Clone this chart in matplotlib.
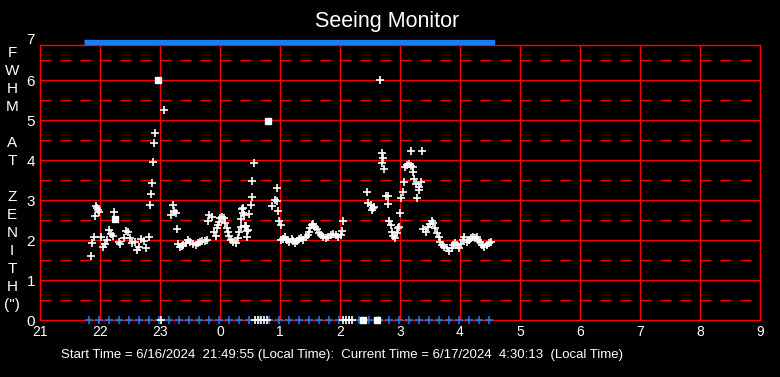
import matplotlib
matplotlib.use('Agg')
import matplotlib.pyplot as plt

plt.rcParams['font.family'] = ['Liberation Sans', 'DejaVu Sans']
plt.rcParams['lines.scale_dashes'] = False

# seeing samples: hour of night (24+ = next day) and FWHM in arcsec
t_seeing = [21.855, 21.867, 21.895, 21.922, 21.933, 21.955, 21.967, 21.988, 22.022, 22.045,
            22.078, 22.117, 22.145, 22.188, 22.212, 22.228, 22.312, 22.338, 22.395, 22.438,
            22.467, 22.495, 22.533, 22.578, 22.617, 22.645, 22.688, 22.728, 22.767, 22.812,
            22.828, 22.85, 22.872, 22.888, 22.905, 22.922, 23.072,
            23.183, 23.222, 23.238, 23.267, 23.278, 23.305, 23.333, 23.362, 23.388, 23.428,
            23.472, 23.5, 23.555, 23.595, 23.638, 23.667, 23.705, 23.75, 23.778, 23.805,
            23.822, 23.862, 23.905, 23.928, 23.945, 23.962, 23.983, 24.0, 24.028, 24.072,
            24.083, 24.112, 24.128, 24.15, 24.183, 24.222, 24.262, 24.295, 24.317, 24.35,
            24.35, 24.362, 24.378, 24.388, 24.405, 24.417, 24.428, 24.445, 24.455, 24.472,
            24.488, 24.512, 24.528, 24.538, 24.572,
            24.872, 24.917, 24.945, 24.955, 24.972, 24.988, 25.012,
            25.012, 25.045, 25.083, 25.112, 25.155, 25.195, 25.222, 25.25, 25.288, 25.322,
            25.35, 25.388, 25.433, 25.462, 25.483, 25.5, 25.528, 25.545, 25.583, 25.612,
            25.65, 25.678, 25.722, 25.767, 25.805, 25.845, 25.888, 25.933, 25.972, 26.012,
            26.028, 26.055,
            26.455, 26.472, 26.512, 26.538, 26.555, 26.567, 26.672, 26.695, 26.722, 26.705,
            26.738, 26.762, 26.795, 26.805, 26.822, 26.845, 26.862, 26.888, 26.917, 26.945,
            26.972, 26.988, 27.005, 27.022, 27.05, 27.072, 27.083, 27.112, 27.15, 27.183,
            27.188, 27.212, 27.222, 27.238, 27.262, 27.288, 27.312, 27.322, 27.355, 27.372,
            27.388, 27.433, 27.472, 27.5, 27.528, 27.555, 27.583, 27.612, 27.65, 27.667,
            27.695, 27.733, 27.778, 27.822, 27.862, 27.888, 27.917, 27.955, 27.988, 28.012,
            28.045, 28.072, 28.112, 28.15, 28.183, 28.212, 28.25, 28.278, 28.305, 28.333,
            28.372, 28.405, 28.445, 28.478, 28.512]
fwhm = [1.61, 1.93, 2.07, 2.60, 2.85, 2.80, 2.75, 2.69, 2.08, 1.83,
        1.90, 2.00, 2.25, 2.15, 2.11, 2.71, 1.96, 1.90, 2.04, 2.22,
        2.19, 2.06, 1.92, 1.96, 1.75, 1.83, 2.03, 1.98, 1.81, 2.08,
        2.88, 3.15, 3.42, 3.94, 4.42, 4.67, 5.25,
        2.62, 2.88, 2.73, 2.67, 2.27, 1.89, 1.83, 1.86, 1.87, 1.92,
        2.00, 1.96, 1.89, 1.87, 1.92, 1.96, 1.98, 1.98, 2.00, 2.47,
        2.62, 2.58, 2.21, 2.11, 2.29, 2.37, 2.46, 2.56, 2.58, 2.54,
        2.42, 2.31, 2.21, 2.11, 2.00, 1.96, 1.93, 2.06, 2.21, 2.33,
        2.52, 2.77, 2.67, 2.79, 2.62, 2.35, 2.36, 2.08, 2.23, 2.25,
        2.65, 2.88, 3.07, 3.47, 3.92,
        2.85, 3.00, 3.29, 2.98, 2.73, 2.48, 2.38,
        2.00, 2.02, 2.07, 2.00, 1.96, 2.02, 1.98, 1.93, 1.98, 2.02,
        2.05, 2.00, 2.07, 2.12, 2.21, 2.29, 2.37, 2.40, 2.33, 2.27,
        2.18, 2.12, 2.07, 2.04, 2.08, 2.12, 2.15, 2.12, 2.07, 2.12,
        2.22, 2.47,
        3.19, 2.93, 2.88, 2.75, 2.79, 2.82, 6.00, 4.17, 4.04, 3.92,
        3.77, 3.11, 3.11, 2.89, 2.47, 2.37, 2.21, 2.10, 2.06, 2.17,
        2.29, 2.32, 2.68, 3.04, 3.21, 3.46, 3.82, 3.87, 3.90, 3.85,
        4.22, 3.82, 3.69, 3.52, 3.39, 3.04, 3.25, 3.33, 3.46, 4.22,
        2.27, 2.21, 2.33, 2.40, 2.48, 2.42, 2.29, 2.17, 2.07, 1.96,
        1.87, 1.83, 1.79, 1.73, 1.79, 1.87, 1.93, 1.87, 1.79, 1.90,
        2.00, 2.07, 1.96, 2.00, 2.04, 2.07, 2.04, 2.07, 2.00, 1.96,
        1.87, 1.83, 1.87, 1.92, 1.96]

# repeated samples that pile up into little squares
t_pile = [22.255, 22.967, 24.8, 26.39, 26.62]
fwhm_pile = [2.52, 6.00, 4.98, 0.0, 0.0]

# failed measurements, drawn on the zero line
t_zero = [23.02, 24.58, 24.63, 24.68, 24.73, 24.78, 26.05, 26.1, 26.15, 26.2]
fwhm_zero = [0, 0, 0, 0, 0, 0, 0, 0, 0, 0]

# 10 minute status ticks
t_status = [21.82, 21.99, 22.15, 22.32, 22.49, 22.65, 22.82, 22.99, 23.15, 23.32,
            23.49, 23.65, 23.82, 23.99, 24.15, 24.32, 24.49, 24.65, 24.82, 24.99,
            25.15, 25.32, 25.49, 25.65, 25.82, 25.99, 26.15, 26.32, 26.49, 26.65,
            26.82, 26.99, 27.15, 27.32, 27.49, 27.65, 27.82, 27.99, 28.15, 28.32, 28.49]
status_top = [6.94] * len(t_status)
status_bottom = [0.0] * len(t_status)

hours = [21, 22, 23, 24, 25, 26, 27, 28, 29, 30, 31, 32, 33]
hour_labels = ['21', '22', '23', '0', '1', '2', '3', '4', '5', '6', '7', '8', '9']

red = '#ff0000'
blue = '#1a7ef2'

fig = plt.figure(figsize=(7.8, 3.77), dpi=100, facecolor='black')
ax = fig.add_axes([40 / 780, 57 / 377, 720 / 780, 275 / 377])
ax.set_facecolor('black')
ax.set_xlim(21, 33)
ax.set_ylim(0, 6.875)

for h in hours[1:-1]:
    ax.axvline(h, color=red, lw=1.0, zorder=1)
for v in range(1, 7):
    ax.axhline(v, color=red, lw=1.0, zorder=1)
for k in range(7):
    ax.axhline(k + 0.5, color=red, lw=1.0, dashes=(7.9, 6.5), zorder=1)
for s in ax.spines.values():
    s.set_color(red)
    s.set_linewidth(1.0)

ax.set_xticks(hours)
ax.set_xticklabels(hour_labels)
ax.set_yticks(range(7))
ax.tick_params(length=0, colors='white', labelsize=10, pad=3.5)
ax.tick_params(axis='y', labelsize=11, pad=3.5)
ax.text(-0.007, 7, '7', transform=ax.get_yaxis_transform(), color='white',
        fontsize=11, ha='right', va='center')

rect = [(-1, -0.5), (1, -0.5), (1, 0.5), (-1, 0.5)]
ax.plot(t_status, status_top, ls='none', marker=rect, ms=6.5, color=blue,
        clip_on=False, zorder=3)
ax.plot(t_status, status_bottom, ls='none', marker='+', ms=5.5, mew=1.1,
        color=blue, clip_on=False, zorder=3)

ax.plot(t_seeing, fwhm, ls='none', marker='+', ms=5.8, mew=1.2, color='white', zorder=4)
ax.plot(t_zero, fwhm_zero, ls='none', marker='+', ms=5.8, mew=1.2, color='white',
        clip_on=False, zorder=4)
ax.plot(t_pile, fwhm_pile, ls='none', marker='s', ms=4.5, color='white',
        clip_on=False, zorder=4)

fig.text(387 / 780, 1 - 21 / 377, 'Seeing Monitor', color='white', fontsize=15.5,
         ha='center', va='center')

letters = ['F', 'W', 'H', 'M', '', 'A', 'T', '', 'Z', 'E', 'N', 'I', 'T', 'H', '(")']
for i, ch in enumerate(letters):
    fig.text(12 / 780, 1 - (53 + 18 * i) / 377, ch, color='white', fontsize=11,
             ha='center', va='center')

fig.text(342 / 780, 1 - 355 / 377,
         'Start Time = 6/16/2024  21:49:55 (Local Time):  Current Time = 6/17/2024  4:30:13  (Local Time)',
         color='white', fontsize=9.5, ha='center', va='center')

fig.savefig('out.png', dpi=100, facecolor='black')
